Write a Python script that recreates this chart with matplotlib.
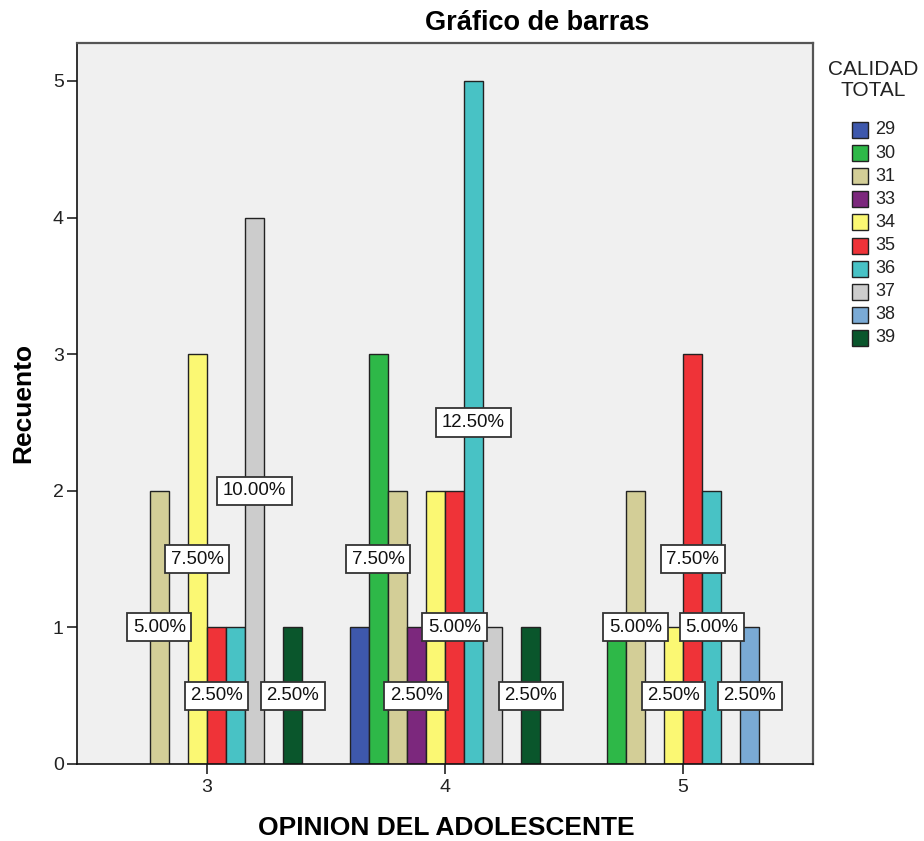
import matplotlib
matplotlib.use("Agg")
import matplotlib.pyplot as plt
from matplotlib.patches import Rectangle

plt.rcParams['font.family'] = ['Liberation Sans', 'DejaVu Sans']

# opinion categories on the x axis
categories = ['3', '4', '5']

# CALIDAD TOTAL groups, one bar per group in each cluster
series = ['29', '30', '31', '33', '34', '35', '36', '37', '38', '39']
colors = ['#3E58AC', '#2EB848', '#D3CE97', '#7C287D', '#FBF873',
          '#EF3338', '#48C2C5', '#CCCCCC', '#7AAAD5', '#0A562C']

# counts per group, for categories 3, 4, 5
counts = {
    '29': [0, 1, 0],
    '30': [0, 3, 1],
    '31': [2, 2, 2],
    '33': [0, 1, 0],
    '34': [3, 2, 1],
    '35': [1, 2, 3],
    '36': [1, 5, 2],
    '37': [4, 1, 0],
    '38': [0, 0, 1],
    '39': [1, 1, 0],
}

# groups whose percentage label is shown in each category
shown_labels = [
    ['31', '34', '35', '37', '39'],
    ['30', '33', '35', '36', '39'],
    ['31', '34', '35', '36', '38'],
]

total = sum(sum(v) for v in counts.values())

W, H = 924, 841
fig = plt.figure(figsize=(W / 100, H / 100), dpi=100)
ax = fig.add_axes([77 / W, 77 / H, 736 / W, 721 / H])
ax.set_facecolor('#F0F0F0')

bar_w = 0.08
n = len(series)
for i, name in enumerate(series):
    offset = (i - (n - 1) / 2) * bar_w
    for c, val in enumerate(counts[name]):
        if val == 0:
            continue
        x = c + offset
        ax.bar(x, val, width=bar_w, color=colors[i], edgecolor='#222222',
               linewidth=1.0, zorder=2)
        if name in shown_labels[c]:
            ax.text(x, val / 2, '%.2f%%' % (val / total * 100), ha='center', va='center',
                    fontsize=13.4, color='#111111', zorder=4,
                    bbox=dict(boxstyle='square,pad=0.3', facecolor='white',
                              edgecolor='#333333', linewidth=1.3))

ax.set_xlim(-0.546, 2.546)
ax.set_ylim(0, 5.278)
ax.set_xticks(range(len(categories)))
ax.set_xticklabels(categories)
ax.set_yticks(range(6))
ax.tick_params(axis='both', labelsize=14, labelcolor='#222222', length=7.5,
               width=1.2, color='#222222')
ax.tick_params(axis='y', pad=2)
ax.tick_params(axis='x', pad=3)

for side in ['left', 'bottom']:
    ax.spines[side].set_color('#111111')
    ax.spines[side].set_linewidth(1.2)
for side in ['top', 'right']:
    ax.spines[side].set_color('#555555')
    ax.spines[side].set_linewidth(1.6)

fig.text(537 / W, 1 - 30 / H, 'Gráfico de barras', ha='center', va='baseline',
         fontsize=19.5, fontweight='bold')
fig.text(446 / W, 1 - 835 / H, 'OPINION DEL ADOLESCENTE', ha='center', va='baseline',
         fontsize=19, fontweight='bold')
fig.text(23 / W, 1 - 403 / H, 'Recuento', rotation=90, ha='center', va='center',
         fontsize=19, fontweight='bold')

# legend drawn by hand on the right side
fig.text(873 / W, 1 - 75 / H, 'CALIDAD', ha='center', va='baseline', fontsize=15,
         color='#222222')
fig.text(873 / W, 1 - 96 / H, 'TOTAL', ha='center', va='baseline', fontsize=15,
         color='#222222')
for i, name in enumerate(series):
    yc = 130 + i * 23.1
    fig.patches.append(Rectangle((852 / W, 1 - (yc + 8) / H), 16 / W, 16 / H,
                                 facecolor=colors[i], edgecolor='#222222',
                                 linewidth=1.0, transform=fig.transFigure))
    fig.text(875 / W, 1 - yc / H, name, ha='left', va='center', fontsize=13,
             color='#222222')

fig.savefig('out.png', dpi=100)
